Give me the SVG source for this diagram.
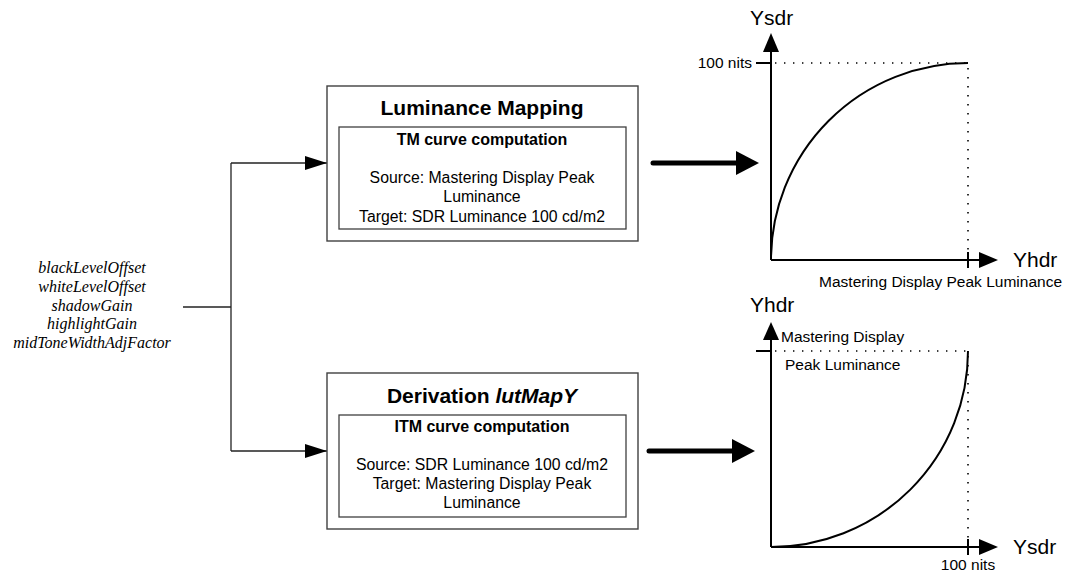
<svg xmlns="http://www.w3.org/2000/svg" width="1070" height="577" viewBox="0 0 1070 577">
<style>
.box{fill:#fff;stroke:#404040;stroke-width:1.4}
.inner{fill:none;stroke:#404040;stroke-width:1.3}
.conn{fill:none;stroke:#222;stroke-width:1.3}
.axis{fill:none;stroke:#000;stroke-width:2}
.curve{fill:none;stroke:#000;stroke-width:2}
.dot{fill:none;stroke:#000;stroke-width:1.6;stroke-dasharray:1.4 7.6}
.thick{fill:none;stroke:#000;stroke-width:5;stroke-linecap:round}
.t{font-family:"Liberation Sans",Arial,sans-serif;fill:#000}
.title{font-size:21px;font-weight:bold;text-anchor:middle}
.sub{font-size:16px;font-weight:bold;text-anchor:middle}
.body{font-size:15.8px;text-anchor:middle}
.lab{font-size:15.5px}
.ax{font-size:21px}
.param{font-family:"Liberation Serif","Times New Roman",serif;font-style:italic;font-size:16px;text-anchor:middle;fill:#000}
</style>
<defs>
<marker id="ah" markerWidth="22" markerHeight="14" refX="22" refY="7" orient="auto" markerUnits="userSpaceOnUse">
<path d="M0,0 L22,7 L0,14 Z" fill="#000"/>
</marker>
</defs>

<g id="params">
<text class="param" x="92" y="273">blackLevelOffset</text>
<text class="param" x="92" y="292">whiteLevelOffset</text>
<text class="param" x="92" y="311">shadowGain</text>
<text class="param" x="92" y="329">highlightGain</text>
<text class="param" x="92" y="348">midToneWidthAdjFactor</text>
</g>

<g id="connectors">
<path class="conn" d="M183,307 H231"/>
<path class="conn" d="M231,163 V451"/>
<path class="conn" d="M231,163 H327" marker-end="url(#ah)"/>
<path class="conn" d="M231,451 H327" marker-end="url(#ah)"/>
<path class="thick" d="M653,163 H737"/>
<path d="M736,151 L759,163 L736,175 Z" fill="#000"/>
<path class="thick" d="M649,451 H733"/>
<path d="M732,439 L755,451 L732,463 Z" fill="#000"/>
</g>

<g id="luminance-mapping">
<rect class="box" x="327" y="86" width="311" height="155"/>
<text class="t title" x="482" y="115">Luminance Mapping</text>
<rect class="inner" x="339" y="127" width="287" height="102"/>
<text class="t sub" x="482" y="145">TM curve computation</text>
<text class="t body" x="482" y="183">Source: Mastering Display Peak</text>
<text class="t body" x="482" y="202">Luminance</text>
<text class="t body" x="482" y="222">Target: SDR Luminance 100 cd/m2</text>
</g>

<g id="derivation-lutmapy">
<rect class="box" x="327" y="373" width="311" height="156"/>
<text class="t title" x="482" y="403">Derivation <tspan font-style="italic">lutMapY</tspan></text>
<rect class="inner" x="339" y="415" width="287" height="102"/>
<text class="t sub" x="482" y="432">ITM curve computation</text>
<text class="t body" x="482" y="470">Source: SDR Luminance 100 cd/m2</text>
<text class="t body" x="482" y="489">Target: Mastering Display Peak</text>
<text class="t body" x="482" y="508">Luminance</text>
</g>

<g id="tm-graph">
<path class="axis" d="M771,260 V50"/>
<path d="M763,52 L771,33 L779,52 Z" fill="#000"/>
<path class="axis" d="M771,260 H981"/>
<path d="M979,252 L998,260 L979,268 Z" fill="#000"/>
<path class="axis" d="M756,63 H771" stroke-width="1.5"/>
<path class="axis" d="M968,252 V268" stroke-width="1.5"/>
<path class="dot" d="M775,63 H968 V258"/>
<path class="curve" d="M771,260 A197,197 0 0 1 968,63"/>
<text class="t ax" x="750" y="25">Ysdr</text>
<text class="t ax" x="1013" y="267">Yhdr</text>
<text class="t lab" x="752" y="68" text-anchor="end">100 nits</text>
<text class="t lab" x="1062" y="287" text-anchor="end">Mastering Display Peak Luminance</text>
</g>

<g id="itm-graph">
<path class="axis" d="M771,547 V338"/>
<path d="M763,340 L771,322 L779,340 Z" fill="#000"/>
<path class="axis" d="M771,547 H981"/>
<path d="M979,539 L998,547 L979,555 Z" fill="#000"/>
<path class="axis" d="M756,351 H771" stroke-width="1.5"/>
<path class="axis" d="M968,539 V555" stroke-width="1.5"/>
<path class="dot" d="M775,351 H968 V545"/>
<path class="curve" d="M771,547 A197,196 0 0 0 968,351"/>
<text class="t ax" x="750" y="312">Yhdr</text>
<text class="t ax" x="1013" y="554">Ysdr</text>
<text class="t lab" x="968" y="570" text-anchor="middle">100 nits</text>
<text class="t lab" x="781" y="342">Mastering Display</text>
<text class="t lab" x="785" y="370">Peak Luminance</text>
</g>
</svg>
